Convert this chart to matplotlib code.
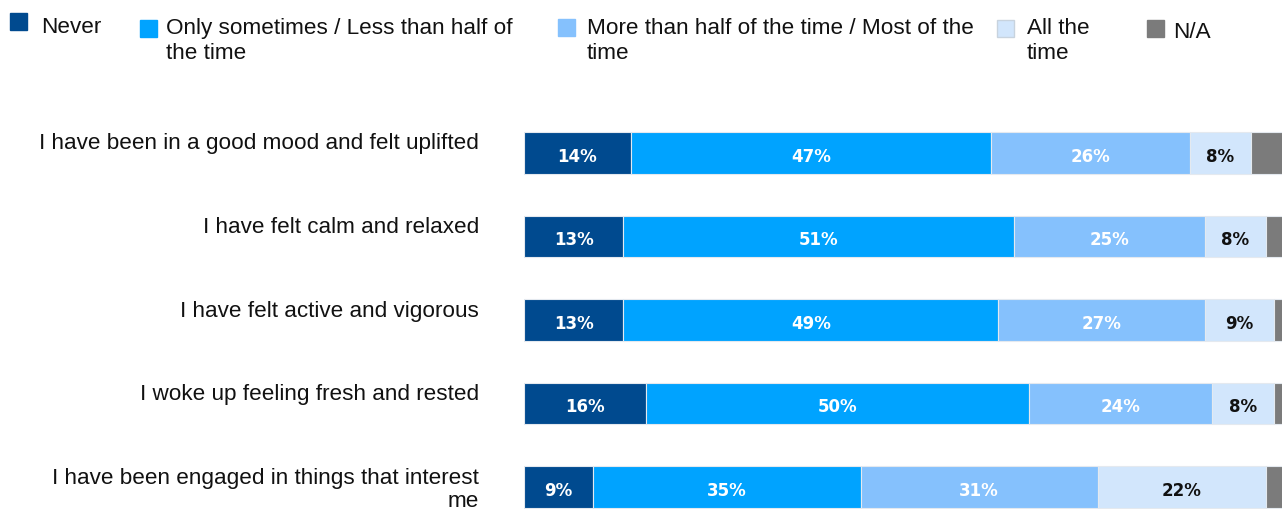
import matplotlib.pyplot as plt
import numpy as np
from matplotlib import transforms

plt.rcParams['font.family'] = ['Liberation Sans', 'DejaVu Sans']

statements = ['I have been in a good mood and felt uplifted',
              'I have felt calm and relaxed',
              'I have felt active and vigorous',
              'I woke up feeling fresh and rested',
              'I have been engaged in things that interest\nme']
categories = ['Never', 'Only sometimes / Less than half of\nthe time',
              'More than half of the time / Most of the\ntime',
              'All the\ntime', 'N/A']
never = [14, 13, 13, 16, 9]
sometimes = [47, 51, 49, 50, 35]
most = [26, 25, 27, 24, 31]
always = [8, 8, 9, 8, 22]
na = [5, 3, 2, 2, 3]

colors = ['#004a8f', '#00a3ff', '#85c1fd', '#d2e6fc', '#7b7b7b']
text_colors = ['white', 'white', 'white', '#111111', None]

W, H = 1282, 510
fig = plt.figure(figsize=(W / 100, H / 100), dpi=100)
# axes runs a bit past the right edge, the bars are cut like in the source
ax = fig.add_axes([524 / W, -19.75 / H, 765 / W, 417.5 / H])

series = [never, sometimes, most, always, na]
y = np.arange(len(statements))
left = np.zeros(len(statements))
for vals, c, tc in zip(series, colors, text_colors):
    vals = np.array(vals, dtype=float)
    ax.barh(y, vals, left=left, height=0.5, color=c, edgecolor='#e4e9ef', linewidth=0.8)
    if tc is not None:
        for yi, l, v in zip(y, left, vals):
            ax.text(l + v / 2, yi + 0.03, f'{v:.0f}%', ha='center', va='center',
                    color=tc, fontsize=12, fontweight='bold', family='DejaVu Sans')
    left += vals

ax.set_xlim(0, 100)
ax.set_ylim(4.5, -0.5)
ax.axis('off')

# row labels, right aligned left of the bars
for yi, s in zip(y, statements):
    dy = -2 if '\n' in s else 10
    off = transforms.ScaledTranslation(-45 / 100, dy / 100, fig.dpi_scale_trans)
    ax.text(0, yi, s, transform=ax.get_yaxis_transform() + off, ha='right', va='center',
            fontsize=16.2, color='#111111', linespacing=1.15)

# legend drawn by hand, items are spaced unevenly in the source
leg_x = [10, 140, 558, 997, 1147]
leg_y = [14, 21, 20, 21, 21]
txt_x = [41, 166, 587, 1027, 1173]
txt_y = [17, 18, 18, 18, 22]
for lx, ly, tx, ty, c, lab in zip(leg_x, leg_y, txt_x, txt_y, colors, categories):
    fig.patches.append(plt.Rectangle((lx / W, 1 - (ly + 17) / H), 17 / W, 17 / H,
                                     transform=fig.transFigure, facecolor=c,
                                     edgecolor='#c8d3de' if c == colors[3] else c))
    fig.text(tx / W, 1 - ty / H, lab, ha='left', va='top', fontsize=16.2,
             color='#111111', linespacing=1.25)

fig.savefig('out.png', dpi=100)
